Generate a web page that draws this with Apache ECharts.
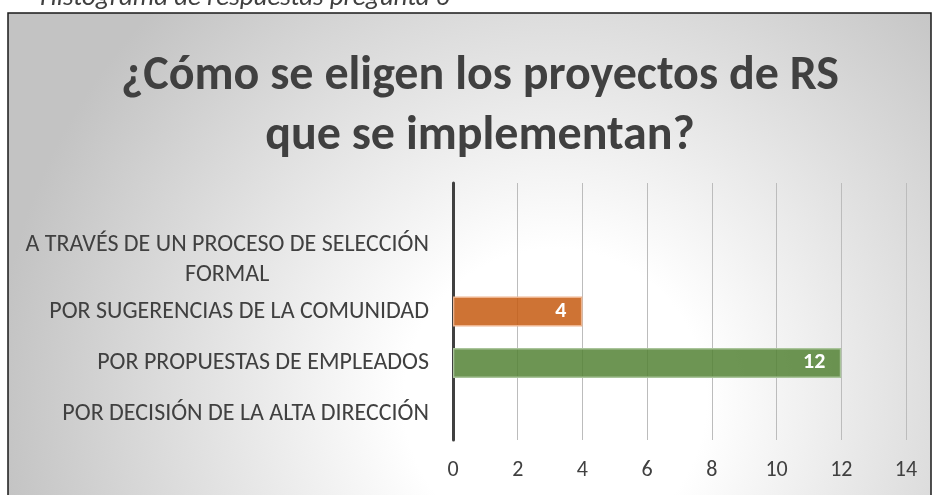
<!DOCTYPE html>
<html lang="es">
<head>
<meta charset="UTF-8">
<title>¿Cómo se eligen los proyectos de RS que se implementan?</title>
<script src="https://cdn.jsdelivr.net/npm/echarts@6/dist/echarts.min.js"></script>
<style>
  html, body { margin: 0; padding: 0; background: #ffffff; }
  #chart { width: 933px; height: 495px; }
</style>
</head>
<body>
<div id="chart"></div>
<script>
// categories bottom -> top (echarts category axis starts at the bottom)
var categories = [
    'POR DECISIÓN DE LA ALTA DIRECCIÓN',
    'POR PROPUESTAS DE EMPLEADOS',
    'POR SUGERENCIAS DE LA COMUNIDAD',
    'A TRAVÉS DE UN PROCESO DE SELECCIÓN\nFORMAL',
    ''
];
var respuestas = [0, 12, 4, 0, null];
var barColors = ['#4472C4', '#548235', '#C55A11', '#A5A5A5', '#FFC000'];
var barBorders = ['#9db3e0', '#a9c49a', '#eeb48e', '#d2d2d2', '#ffe08a'];
var xTicks = [0, 2, 4, 6, 8, 10, 12, 14];

var FONT = 'Carlito, Calibri, Lato, "Open Sans", sans-serif';
var TEXT = '#404040';

function hexAlpha(hex, a) {
    var n = parseInt(hex.slice(1), 16);
    return 'rgba(' + (n >> 16) + ',' + ((n >> 8) & 255) + ',' + (n & 255) + ',' + a + ')';
}

var barData = respuestas.map(function (v, i) {
    return {
        value: v,
        itemStyle: {
            color: hexAlpha(barColors[i], 0.85),
            borderColor: v ? barBorders[i] : 'transparent',
            borderWidth: v ? 1.5 : 0
        }
    };
});

var chart = echarts.init(document.getElementById('chart'));
var option = {
    animation: false,
    backgroundColor: '#ffffff',
    graphic: [
        {
            type: 'rect',
            z: -10,
            shape: { x: 8, y: 13, width: 923, height: 520 },
            style: {
                fill: {
                    type: 'radial', x: 555, y: 400, r: 560, global: true,
                    colorStops: [
                        { offset: 0, color: '#ffffff' },
                        { offset: 0.27, color: '#ffffff' },
                        { offset: 1, color: '#c3c3c3' }
                    ]
                },
                stroke: '#1a1a1a',
                lineWidth: 1.5
            },
            silent: true
        },
        {
            type: 'text',
            left: 40,
            top: -15,
            style: {
                text: 'Histograma de respuestas pregunta 6',
                font: 'italic 27px ' + FONT,
                fill: TEXT
            },
            silent: true
        }
    ],
    title: {
        text: '¿Cómo se eligen los proyectos de RS\nque se implementan?',
        left: 475,
        textAlign: 'center',
        top: 42,
        textStyle: {
            fontFamily: FONT,
            fontSize: 48,
            fontWeight: 'bold',
            color: TEXT,
            lineHeight: 60
        }
    },
    grid: {
        left: 453,
        right: 27,
        top: 183,
        bottom: 55,
        containLabel: false
    },
    xAxis: {
        type: 'value',
        min: xTicks[0],
        max: xTicks[xTicks.length - 1],
        interval: 2,
        axisLine: { show: false },
        axisTick: { show: false },
        axisLabel: {
            color: TEXT,
            fontFamily: FONT,
            fontSize: 22,
            margin: 19
        },
        splitLine: { lineStyle: { color: '#bcbcbc', width: 1 } }
    },
    yAxis: {
        type: 'category',
        data: categories,
        axisLine: { lineStyle: { color: TEXT, width: 3 } },
        axisTick: { show: false },
        axisLabel: {
            color: TEXT,
            fontFamily: FONT,
            fontSize: 24,
            margin: 24,
            lineHeight: 30,
            formatter: function (v) {
                if (!v) return '';
                return v.split('\n').map(function (s) { return '{c|' + s + '}'; }).join('\n');
            },
            rich: {
                c: { align: 'center', color: TEXT, fontFamily: FONT, fontSize: 24, lineHeight: 30 }
            }
        }
    },
    series: [
        {
            type: 'bar',
            data: barData,
            barWidth: 30,
            label: {
                show: true,
                position: 'insideRight',
                distance: 16,
                color: '#ffffff',
                fontFamily: FONT,
                fontWeight: 'bold',
                fontSize: 22,
                formatter: function (p) { return p.value ? String(p.value) : ''; }
            }
        }
    ]
};
chart.setOption(option);
</script>
</body>
</html>
